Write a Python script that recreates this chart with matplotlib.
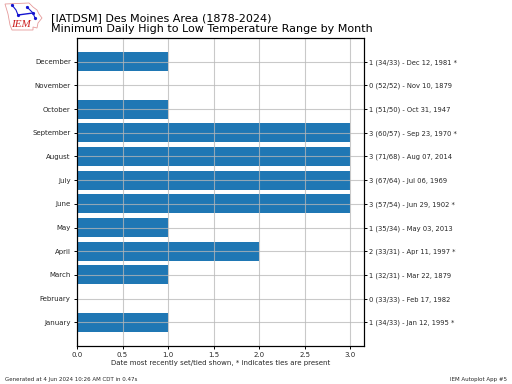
import matplotlib
matplotlib.use('Agg')
import matplotlib.pyplot as plt
from matplotlib.patches import Polygon

months = ['January', 'February', 'March', 'April', 'May', 'June', 'July',
          'August', 'September', 'October', 'November', 'December']
ranges = [1, 0, 1, 2, 1, 3, 3, 3, 3, 1, 0, 1]
right_labels = [
    '1 (34/33) - Jan 12, 1995 *',
    '0 (33/33) - Feb 17, 1982',
    '1 (32/31) - Mar 22, 1879',
    '2 (33/31) - Apr 11, 1997 *',
    '1 (35/34) - May 03, 2013',
    '3 (57/54) - Jun 29, 1902 *',
    '3 (67/64) - Jul 06, 1969',
    '3 (71/68) - Aug 07, 2014',
    '3 (60/57) - Sep 23, 1970 *',
    '1 (51/50) - Oct 31, 1947',
    '0 (52/52) - Nov 10, 1879',
    '1 (34/33) - Dec 12, 1981 *',
]
xticks = [0.0, 0.5, 1.0, 1.5, 2.0, 2.5, 3.0]

W, H = 512, 384
fig = plt.figure(figsize=(W / 100, H / 100), dpi=100)
ax = fig.add_axes([77 / W, 1 - 346 / H, 287 / W, 308 / H])

ax.barh(range(12), ranges, height=0.8, color='#1f77b4')
ax.set_axisbelow(False)
ax.grid(True, color='#b8b8b8', lw=0.8, alpha=0.75)
ax.set_xlim(0, 3.15)
ax.set_ylim(-1, 12)
ax.set_xticks(xticks)
ax.set_yticks(range(12))
ax.set_yticklabels(months)
ax.tick_params(axis='both', labelsize=5, length=2.5, width=0.7, pad=2, labelcolor='#262626')
ax.set_xlabel('Date most recently set/tied shown, * indicates ties are present',
              fontsize=5, labelpad=1, color='#262626')

ax2 = ax.twinx()
ax2.set_ylim(-1, 12)
ax2.set_yticks(range(12))
ax2.set_yticklabels(right_labels)
ax2.tick_params(axis='y', labelsize=4.9, length=2.5, width=0.7, pad=0.8, labelcolor='#262626')

fig.text(51 / W, 1 - 18 / H, '[IATDSM] Des Moines Area (1878-2024)',
         fontsize=8, va='center', ha='left')
fig.text(51 / W, 1 - 29.5 / H, 'Minimum Daily High to Low Temperature Range by Month',
         fontsize=8, va='center', ha='left')
fig.text(5 / W, 1 - 379 / H, 'Generated at 4 Jun 2024 10:26 AM CDT in 0.47s',
         fontsize=4, va='center', ha='left', color='#262626')
fig.text(507 / W, 1 - 379 / H, 'IEM Autoplot App #5',
         fontsize=4, va='center', ha='right', color='#262626')

# IEM logo, state outline with a little network on it
logo = fig.add_axes([0, 1 - 34 / H, 46 / W, 34 / H])
logo.set_xlim(0, 46)
logo.set_ylim(34, 0)
logo.axis('off')
logo.add_patch(Polygon([(5, 4), (29, 3), (33, 7), (37, 10), (39, 14), (42, 18), (38, 23),
                        (37, 28), (33, 27), (33, 30), (12, 30), (10, 25), (8, 14)],
                       closed=True, fc='white', ec='#e59a9a', lw=0.6))
logo.plot([12, 16, 18], [5, 10, 15], color='#1515d0', lw=0.8)
logo.plot([18, 33], [15, 13], color='#1515d0', lw=1.0)
logo.plot([27, 33, 35], [7, 13, 18], color='#1515d0', lw=0.8)
logo.plot([18, 33, 35, 12, 27], [15, 13, 18, 5, 7], 'o', color='#1515d0', ms=1.3)
logo.text(11, 24.5, 'IEM', color='#cc1f1f', fontsize=8, family='Liberation Serif',
          style='italic', va='center', ha='left')

fig.savefig('out.png', dpi=100)
